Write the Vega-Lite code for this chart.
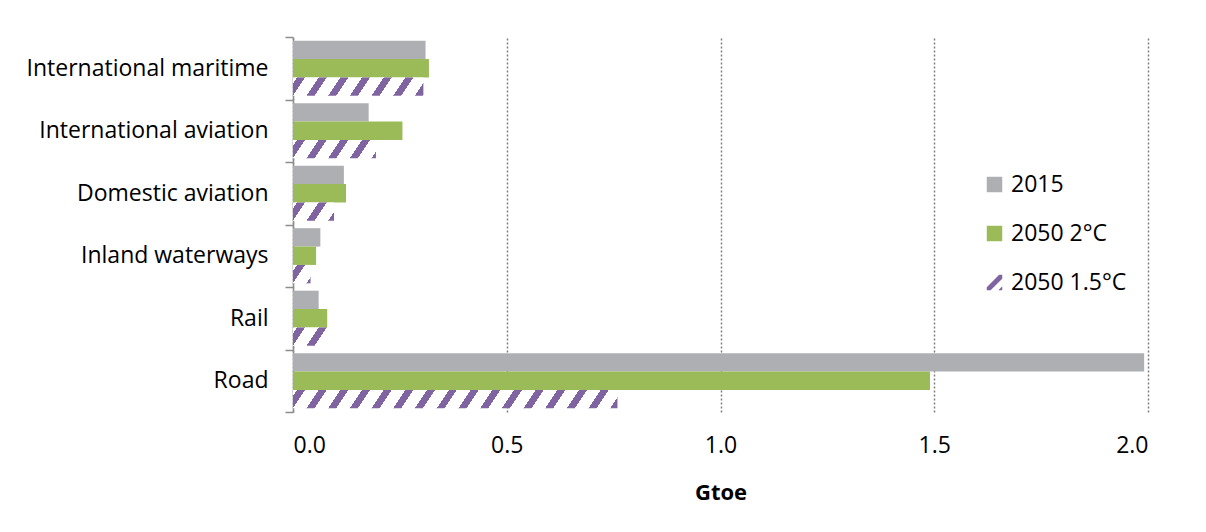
{
  "$schema": "https://vega.github.io/schema/vega-lite/v6.json",
  "width": 855,
  "height": 375,
  "autosize": {"type": "none"},
  "padding": {"left": 293, "top": 37, "right": 58, "bottom": 120},
  "background": "#ffffff",
  "config": {"font": "Open Sans", "view": {"stroke": null}},
  "data": {
    "values": [
      {"sector": "International maritime", "scenario": "2015", "value": 0.310},
      {"sector": "International maritime", "scenario": "2050 2°C", "value": 0.318},
      {"sector": "International maritime", "scenario": "2050 1.5°C", "value": 0.305},
      {"sector": "International aviation", "scenario": "2015", "value": 0.177},
      {"sector": "International aviation", "scenario": "2050 2°C", "value": 0.256},
      {"sector": "International aviation", "scenario": "2050 1.5°C", "value": 0.194},
      {"sector": "Domestic aviation", "scenario": "2015", "value": 0.119},
      {"sector": "Domestic aviation", "scenario": "2050 2°C", "value": 0.124},
      {"sector": "Domestic aviation", "scenario": "2050 1.5°C", "value": 0.096},
      {"sector": "Inland waterways", "scenario": "2015", "value": 0.064},
      {"sector": "Inland waterways", "scenario": "2050 2°C", "value": 0.054},
      {"sector": "Inland waterways", "scenario": "2050 1.5°C", "value": 0.041},
      {"sector": "Rail", "scenario": "2015", "value": 0.060},
      {"sector": "Rail", "scenario": "2050 2°C", "value": 0.080},
      {"sector": "Rail", "scenario": "2050 1.5°C", "value": 0.080},
      {"sector": "Road", "scenario": "2015", "value": 1.991},
      {"sector": "Road", "scenario": "2050 2°C", "value": 1.490},
      {"sector": "Road", "scenario": "2050 1.5°C", "value": 0.759}
    ]
  },
  "mark": {"type": "bar", "strokeWidth": 0},
  "encoding": {
    "y": {
      "field": "sector",
      "type": "nominal",
      "sort": ["International maritime", "International aviation", "Domestic aviation", "Inland waterways", "Rail", "Road"],
      "scale": {"paddingInner": 0, "paddingOuter": 0},
      "axis": {
        "title": null,
        "tickBand": "extent",
        "tickSize": 8,
        "tickColor": "#8c8c8c",
        "tickWidth": 1.5,
        "domainColor": "#8c8c8c",
        "domainWidth": 1.5,
        "labelFontSize": 23,
        "labelColor": "#000000",
        "labelPadding": 17,
        "labelLimit": 300,
        "grid": false
      }
    },
    "yOffset": {
      "field": "scenario",
      "type": "nominal",
      "sort": ["2015", "2050 2°C", "2050 1.5°C"],
      "scale": {"paddingInner": 0, "paddingOuter": 0.2}
    },
    "x": {
      "field": "value",
      "type": "quantitative",
      "scale": {"domain": [0, 2], "nice": false},
      "axis": {
        "title": "Gtoe",
        "titleFontWeight": "bold",
        "titleFontSize": 22,
        "titleColor": "#000000",
        "titlePadding": 25,
        "values": [0, 0.5, 1, 1.5, 2],
        "format": ".1f",
        "labelFontSize": 23,
        "labelColor": "#000000",
        "labelPadding": 22,
        "domain": false,
        "ticks": false,
        "grid": true,
        "gridColor": "#7f7f7f",
        "gridDash": [2, 2],
        "gridWidth": 1.5
      }
    },
    "fill": {
      "field": "scenario",
      "type": "nominal",
      "scale": {"domain": ["2015", "2050 2°C", "2050 1.5°C"], "range": ["#aeafb3", "#9bbb59", "#8064a2"]},
      "legend": {
        "orient": "none",
        "legendX": 690,
        "legendY": 136,
        "title": null,
        "symbolType": {"expr": "datum.value === '2050 1.5°C' ? 'M-1,0.6L0.6,-1L1,-1L1,-0.5L-0.5,1L-1,1ZM1,0.5L1,1L0.5,1Z' : 'square'"},
        "symbolSize": 240,
        "symbolStrokeWidth": 0,
        "labelFontSize": 23,
        "labelColor": "#000000",
        "labelOffset": 5,
        "rowPadding": 25
      },
      "condition": [
        {"test": "datum.scenario === '2050 1.5°C' && datum.sector === 'International maritime'", "value": {"gradient": "linear", "x1": 0, "y1": 0, "x2": 1.0847, "y2": 0.1021, "stops": [
          {"offset": 0.028, "color": "#ffffff"}, {"offset": 0.028, "color": "#8064a2"}, {"offset": 0.084, "color": "#8064a2"}, {"offset": 0.084, "color": "#ffffff"},
          {"offset": 0.180, "color": "#ffffff"}, {"offset": 0.180, "color": "#8064a2"}, {"offset": 0.236, "color": "#8064a2"}, {"offset": 0.236, "color": "#ffffff"},
          {"offset": 0.332, "color": "#ffffff"}, {"offset": 0.332, "color": "#8064a2"}, {"offset": 0.388, "color": "#8064a2"}, {"offset": 0.388, "color": "#ffffff"},
          {"offset": 0.484, "color": "#ffffff"}, {"offset": 0.484, "color": "#8064a2"}, {"offset": 0.540, "color": "#8064a2"}, {"offset": 0.540, "color": "#ffffff"},
          {"offset": 0.636, "color": "#ffffff"}, {"offset": 0.636, "color": "#8064a2"}, {"offset": 0.692, "color": "#8064a2"}, {"offset": 0.692, "color": "#ffffff"},
          {"offset": 0.788, "color": "#ffffff"}, {"offset": 0.788, "color": "#8064a2"}, {"offset": 0.844, "color": "#8064a2"}, {"offset": 0.844, "color": "#ffffff"},
          {"offset": 0.940, "color": "#ffffff"}, {"offset": 0.940, "color": "#8064a2"}, {"offset": 0.996, "color": "#8064a2"}, {"offset": 0.996, "color": "#ffffff"}
        ]}},
        {"test": "datum.scenario === '2050 1.5°C' && datum.sector === 'International aviation'", "value": {"gradient": "linear", "x1": 0, "y1": 0, "x2": 1.1237, "y2": 0.1665, "stops": [
          {"offset": 0.042, "color": "#ffffff"}, {"offset": 0.042, "color": "#8064a2"}, {"offset": 0.126, "color": "#8064a2"}, {"offset": 0.126, "color": "#ffffff"},
          {"offset": 0.270, "color": "#ffffff"}, {"offset": 0.270, "color": "#8064a2"}, {"offset": 0.354, "color": "#8064a2"}, {"offset": 0.354, "color": "#ffffff"},
          {"offset": 0.498, "color": "#ffffff"}, {"offset": 0.498, "color": "#8064a2"}, {"offset": 0.582, "color": "#8064a2"}, {"offset": 0.582, "color": "#ffffff"},
          {"offset": 0.726, "color": "#ffffff"}, {"offset": 0.726, "color": "#8064a2"}, {"offset": 0.810, "color": "#8064a2"}, {"offset": 0.810, "color": "#ffffff"},
          {"offset": 0.954, "color": "#ffffff"}, {"offset": 0.954, "color": "#8064a2"}
        ]}},
        {"test": "datum.scenario === '2050 1.5°C' && datum.sector === 'Domestic aviation'", "value": {"gradient": "linear", "x1": 0, "y1": 0, "x2": 1.193, "y2": 0.3573, "stops": [
          {"offset": 0.075, "color": "#ffffff"}, {"offset": 0.075, "color": "#8064a2"}, {"offset": 0.225, "color": "#8064a2"}, {"offset": 0.225, "color": "#ffffff"},
          {"offset": 0.482, "color": "#ffffff"}, {"offset": 0.482, "color": "#8064a2"}, {"offset": 0.632, "color": "#8064a2"}, {"offset": 0.632, "color": "#ffffff"},
          {"offset": 0.889, "color": "#ffffff"}, {"offset": 0.889, "color": "#8064a2"}
        ]}},
        {"test": "datum.scenario === '2050 1.5°C' && datum.sector === 'Inland waterways'", "value": {"gradient": "linear", "x1": 0, "y1": 0, "x2": 1.141, "y2": 0.8006, "stops": [
          {"offset": 0.134, "color": "#ffffff"}, {"offset": 0.134, "color": "#8064a2"}, {"offset": 0.403, "color": "#8064a2"}, {"offset": 0.403, "color": "#ffffff"},
          {"offset": 0.862, "color": "#ffffff"}, {"offset": 0.862, "color": "#8064a2"}
        ]}},
        {"test": "datum.scenario === '2050 1.5°C' && datum.sector === 'Rail'", "value": {"gradient": "linear", "x1": 0, "y1": 0, "x2": 1.2044, "y2": 0.4325, "stops": [
          {"offset": 0.086, "color": "#ffffff"}, {"offset": 0.086, "color": "#8064a2"}, {"offset": 0.258, "color": "#8064a2"}, {"offset": 0.258, "color": "#ffffff"},
          {"offset": 0.553, "color": "#ffffff"}, {"offset": 0.553, "color": "#8064a2"}, {"offset": 0.725, "color": "#8064a2"}, {"offset": 0.725, "color": "#ffffff"}
        ]}},
        {"test": "datum.scenario === '2050 1.5°C' && datum.sector === 'Road'", "value": {"gradient": "linear", "x1": 0, "y1": 0, "x2": 1.0364, "y2": 0.0392, "stops": [
          {"offset": 0.0119, "color": "#ffffff"}, {"offset": 0.0119, "color": "#8064a2"}, {"offset": 0.0356, "color": "#8064a2"}, {"offset": 0.0356, "color": "#ffffff"},
          {"offset": 0.0763, "color": "#ffffff"}, {"offset": 0.0763, "color": "#8064a2"}, {"offset": 0.1001, "color": "#8064a2"}, {"offset": 0.1001, "color": "#ffffff"},
          {"offset": 0.1407, "color": "#ffffff"}, {"offset": 0.1407, "color": "#8064a2"}, {"offset": 0.1645, "color": "#8064a2"}, {"offset": 0.1645, "color": "#ffffff"},
          {"offset": 0.2052, "color": "#ffffff"}, {"offset": 0.2052, "color": "#8064a2"}, {"offset": 0.2289, "color": "#8064a2"}, {"offset": 0.2289, "color": "#ffffff"},
          {"offset": 0.2696, "color": "#ffffff"}, {"offset": 0.2696, "color": "#8064a2"}, {"offset": 0.2933, "color": "#8064a2"}, {"offset": 0.2933, "color": "#ffffff"},
          {"offset": 0.3340, "color": "#ffffff"}, {"offset": 0.3340, "color": "#8064a2"}, {"offset": 0.3578, "color": "#8064a2"}, {"offset": 0.3578, "color": "#ffffff"},
          {"offset": 0.3985, "color": "#ffffff"}, {"offset": 0.3985, "color": "#8064a2"}, {"offset": 0.4222, "color": "#8064a2"}, {"offset": 0.4222, "color": "#ffffff"},
          {"offset": 0.4629, "color": "#ffffff"}, {"offset": 0.4629, "color": "#8064a2"}, {"offset": 0.4866, "color": "#8064a2"}, {"offset": 0.4866, "color": "#ffffff"},
          {"offset": 0.5273, "color": "#ffffff"}, {"offset": 0.5273, "color": "#8064a2"}, {"offset": 0.5511, "color": "#8064a2"}, {"offset": 0.5511, "color": "#ffffff"},
          {"offset": 0.5917, "color": "#ffffff"}, {"offset": 0.5917, "color": "#8064a2"}, {"offset": 0.6155, "color": "#8064a2"}, {"offset": 0.6155, "color": "#ffffff"},
          {"offset": 0.6562, "color": "#ffffff"}, {"offset": 0.6562, "color": "#8064a2"}, {"offset": 0.6799, "color": "#8064a2"}, {"offset": 0.6799, "color": "#ffffff"},
          {"offset": 0.7206, "color": "#ffffff"}, {"offset": 0.7206, "color": "#8064a2"}, {"offset": 0.7444, "color": "#8064a2"}, {"offset": 0.7444, "color": "#ffffff"},
          {"offset": 0.7850, "color": "#ffffff"}, {"offset": 0.7850, "color": "#8064a2"}, {"offset": 0.8088, "color": "#8064a2"}, {"offset": 0.8088, "color": "#ffffff"},
          {"offset": 0.8495, "color": "#ffffff"}, {"offset": 0.8495, "color": "#8064a2"}, {"offset": 0.8732, "color": "#8064a2"}, {"offset": 0.8732, "color": "#ffffff"},
          {"offset": 0.9139, "color": "#ffffff"}, {"offset": 0.9139, "color": "#8064a2"}, {"offset": 0.9376, "color": "#8064a2"}, {"offset": 0.9376, "color": "#ffffff"},
          {"offset": 0.9783, "color": "#ffffff"}, {"offset": 0.9783, "color": "#8064a2"}
        ]}}
      ]
    }
  }
}
